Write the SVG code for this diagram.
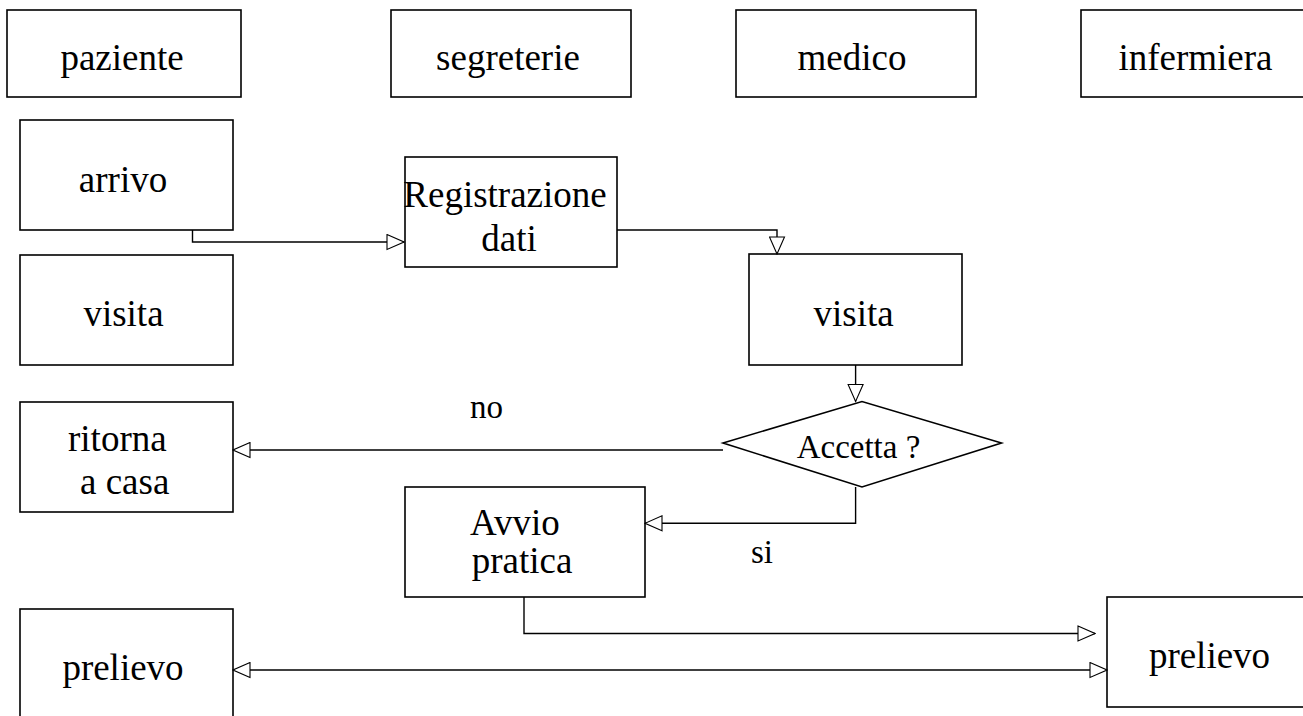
<svg xmlns="http://www.w3.org/2000/svg" width="1303" height="716" viewBox="0 0 1303 716">
<style>
.box{fill:#fff;stroke:#000;stroke-width:1.6}
.t{font-family:"Liberation Serif","Times New Roman",serif;font-size:37px;fill:#000;text-anchor:middle}
.l{text-anchor:start}
.s{font-size:33px}
.c{fill:none;stroke:#000;stroke-width:1.4}
</style>
<defs>
<marker id="ah" viewBox="-1 -1 19 17" refX="17" refY="7.5" markerWidth="19" markerHeight="17" markerUnits="userSpaceOnUse" orient="auto-start-reverse">
<path d="M0,0 L17,7.5 L0,15 Z" fill="#fff" stroke="#000" stroke-width="1.1"/>
</marker>
</defs>
<rect width="1303" height="716" fill="#fff"/>
<g id="paziente"><rect class="box" x="7" y="10" width="234" height="87"/><text class="t" x="122" y="70">paziente</text></g>
<g id="segreterie"><rect class="box" x="391" y="10" width="240" height="87"/><text class="t" x="508" y="70">segreterie</text></g>
<g id="medico"><rect class="box" x="736" y="10" width="240" height="87"/><text class="t" x="852" y="70">medico</text></g>
<g id="infermiera"><rect class="box" x="1081" y="10" width="235" height="87"/><text class="t" x="1195.5" y="70">infermiera</text></g>
<g id="arrivo"><rect class="box" x="20" y="120" width="213" height="110"/><text class="t" x="123" y="192">arrivo</text></g>
<g id="visita1"><rect class="box" x="20" y="255" width="213" height="110"/><text class="t" x="123.5" y="326">visita</text></g>
<g id="registrazione"><rect class="box" x="405" y="157" width="212" height="110"/><text class="t" x="505" y="207">Registrazione</text><text class="t" x="509" y="250.5">dati</text></g>
<g id="visita2"><rect class="box" x="749" y="254" width="213" height="111"/><text class="t" x="853.6" y="326">visita</text></g>
<g id="accetta"><polygon class="box" points="723,443 862,401.5 1001.5,443 862,487"/><text class="t s" x="858.5" y="458">Accetta ?</text></g>
<g id="ritorna"><rect class="box" x="20" y="402" width="213" height="110"/><text class="t l" x="68" y="451">ritorna</text><text class="t l" x="80" y="494">a casa</text></g>
<g id="avvio"><rect class="box" x="405" y="487" width="240" height="110"/><text class="t l" x="470" y="535">Avvio</text><text class="t l" x="471.7" y="573">pratica</text></g>
<g id="prelievo1"><rect class="box" x="20" y="609" width="213" height="120"/><text class="t" x="123" y="680">prelievo</text></g>
<g id="prelievo2"><rect class="box" x="1107" y="597" width="210" height="110"/><text class="t" x="1209.5" y="668">prelievo</text></g>
<g id="connectors">
<polyline class="c" points="192.5,230 192.5,242 404,242" marker-end="url(#ah)"/>
<polyline class="c" points="617,230 777,230 777,254" marker-end="url(#ah)"/>
<polyline class="c" points="855.6,365 855.6,401.5" marker-end="url(#ah)"/>
<polyline class="c" points="723,450 233,450" marker-end="url(#ah)"/>
<polyline class="c" points="855.6,487 855.6,523.3 645,523.3" marker-end="url(#ah)"/>
<polyline class="c" points="524,597 524,633.5 1095,633.5" marker-end="url(#ah)"/>
<polyline class="c" points="233,670 1107,670" marker-start="url(#ah)" marker-end="url(#ah)"/>
<text class="t s" x="486.5" y="418">no</text>
<text class="t s" x="762" y="563">si</text>
</g>
</svg>
